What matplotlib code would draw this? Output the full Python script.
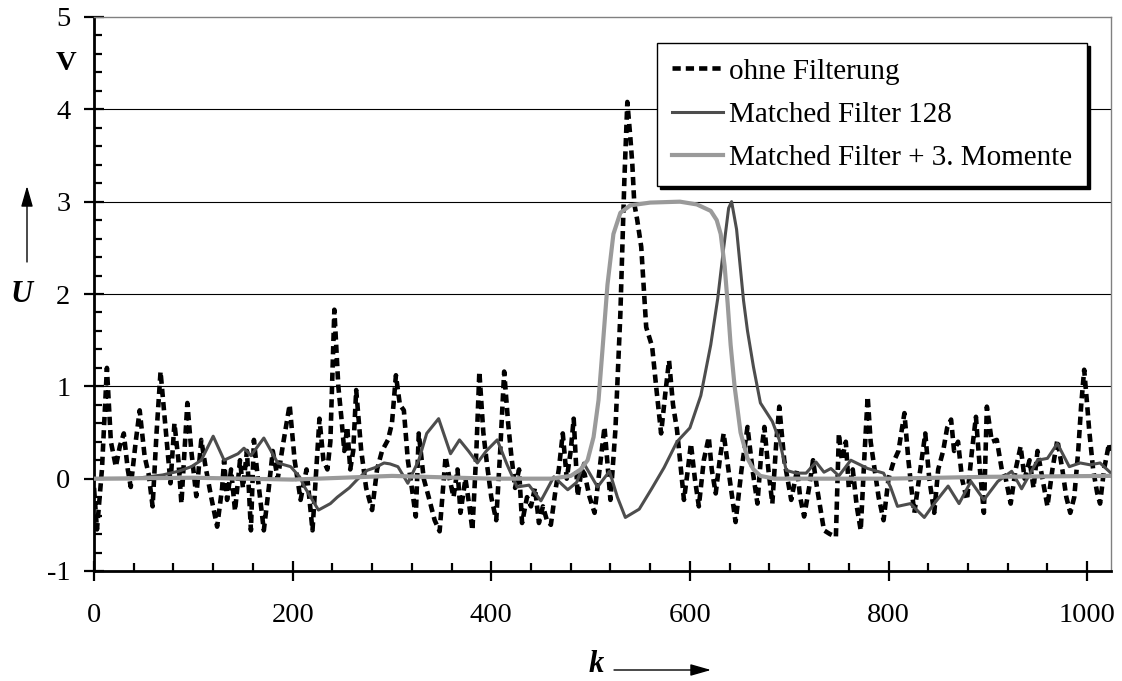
import matplotlib.pyplot as plt
from matplotlib.ticker import MultipleLocator

# Data (sample index k, voltage U)
raw_k = [0, 3, 8, 13, 17, 22, 26, 30, 34, 37, 42, 46, 51, 55, 59, 63, 67, 72, 77, 81,
         85, 88, 94, 98, 103, 108, 112, 118, 124, 129, 131, 134, 138, 142, 147, 150, 154, 158, 161, 165,
         171, 176, 180, 185, 190, 197, 202, 208, 214, 220, 227, 231, 235, 238, 242, 246, 249, 252, 255, 258,
         261, 264, 269, 274, 280, 285, 290, 296, 300, 304, 308, 312, 316, 320, 324, 327, 332, 337, 343, 348,
         354, 358, 362, 366, 369, 374, 378, 381, 385, 388, 392, 396, 400, 405, 409, 413, 417, 420, 424, 428,
         431, 436, 440, 444, 448, 452, 456, 460, 465, 468, 472, 476, 480, 483, 487, 491, 494, 499, 504, 509,
         514, 520, 525, 530, 534, 537, 540, 542, 544, 547, 551, 556, 562, 566, 571, 575, 579, 583, 587, 590,
         594, 598, 601, 605, 609, 614, 619, 622, 626, 630, 634, 640, 646, 652, 658, 663, 668, 672, 675, 679,
         683, 687, 690, 695, 702, 708, 711, 715, 720, 724, 728, 735, 741, 747, 750, 753, 757, 760, 764, 768,
         772, 776, 779, 782, 786, 790, 795, 800, 805, 810, 816, 820, 823, 826, 832, 837, 841, 846, 850, 855,
         859, 863, 866, 870, 874, 879, 884, 888, 892, 896, 899, 904, 909, 914, 918, 923, 928, 933, 937, 942,
         946, 950, 955, 960, 965, 970, 975, 979, 983, 987, 991, 994, 997, 1000, 1002, 1006, 1010, 1013, 1017, 1022,
         1023]
raw_u = [-0.1, -0.55, 0.1, 1.2, 0.4, 0.13, 0.35, 0.49, 0.1, -0.09, 0.4, 0.74, 0.24, 0.05, -0.3, 0.5, 1.16, 0.55, -0.05, 0.6,
         0.2, -0.27, 0.82, 0.3, -0.19, 0.42, 0.15, -0.2, -0.52, -0.1, 0.2, -0.23, 0.1, -0.35, 0.2, -0.1, 0.3, -0.56, 0.42, 0.0,
         -0.56, -0.1, 0.3, 0.0, 0.35, 0.8, 0.2, -0.23, 0.1, -0.56, 0.65, 0.2, 0.1, 0.4, 1.83, 1.0, 0.67, 0.3, 0.56, 0.1,
         0.3, 0.96, 0.31, -0.1, -0.34, 0.1, 0.3, 0.42, 0.6, 1.12, 0.8, 0.74, 0.2, -0.1, -0.41, 0.49, 0.0, -0.2, -0.45, -0.57,
         0.24, 0.0, -0.2, 0.1, -0.37, 0.0, -0.3, -0.56, 0.3, 1.16, 0.5, 0.13, -0.2, -0.45, 0.3, 1.16, 0.6, 0.27, -0.1, 0.1,
         -0.48, -0.2, -0.3, -0.1, -0.48, -0.3, -0.45, -0.5, -0.1, 0.1, 0.49, 0.0, 0.3, 0.65, -0.19, 0.1, 0.05, -0.2, -0.37, 0.1,
         0.56, -0.23, 0.53, 1.79, 3.23, 4.08, 3.7, 3.41, 2.98, 2.8, 2.51, 1.64, 1.43, 1.0, 0.49, 0.9, 1.28, 0.8, 0.53, 0.2,
         -0.23, 0.1, 0.38, 0.0, -0.3, 0.2, 0.45, 0.1, -0.16, 0.2, 0.49, 0.0, -0.47, 0.1, 0.56, 0.1, -0.27, 0.3, 0.56, 0.1,
         -0.27, 0.4, 0.78, 0.2, -0.23, 0.1, -0.2, -0.41, -0.1, 0.2, -0.1, -0.56, -0.6, -0.63, 0.49, 0.2, 0.4, -0.1, 0.1, -0.3,
         -0.56, 0.3, 0.89, 0.4, 0.1, -0.2, -0.45, 0.0, 0.18, 0.3, 0.71, 0.2, -0.1, -0.37, 0.1, 0.49, 0.0, -0.37, 0.1, 0.3,
         0.55, 0.64, 0.3, 0.4, 0.0, -0.23, 0.3, 0.67, 0.1, -0.37, 0.78, 0.4, 0.42, 0.1, 0.0, -0.27, 0.1, 0.35, 0.0, 0.2,
         -0.1, 0.3, 0.0, -0.3, 0.1, 0.42, 0.1, -0.2, -0.37, -0.2, 0.3, 0.8, 1.18, 0.8, 0.53, 0.1, -0.15, -0.27, 0.1, 0.38,
         0.3]

mf_k = [0, 40, 69, 85, 98, 108, 120, 131, 145, 151, 158, 171, 185, 198, 207, 212, 226, 238, 245, 257,
        265, 275, 283, 292, 298, 306, 316, 327, 335, 347, 359, 368, 377, 386, 395, 406, 416, 426, 438, 450,
        463, 477, 486, 493, 507, 519, 527, 535, 549, 562, 574, 587, 600, 611, 621, 628, 634, 639, 642, 647,
        654, 658, 664, 671, 683, 690, 697, 707, 717, 727, 735, 742, 750, 762, 779, 795, 802, 809, 822, 836,
        846, 860, 871, 883, 896, 910, 924, 934, 950, 960, 970, 982, 993, 1003, 1013, 1024]
mf_u = [0.0, 0.0, 0.04, 0.08, 0.13, 0.2, 0.46, 0.2, 0.27, 0.33, 0.25, 0.44, 0.17, 0.13, 0.02, -0.09, -0.34, -0.27, -0.2, -0.1,
        -0.01, 0.09, 0.12, 0.17, 0.16, 0.13, -0.05, 0.2, 0.49, 0.65, 0.27, 0.42, 0.3, 0.17, 0.3, 0.42, 0.15, -0.09, -0.07, -0.24,
        0.02, -0.12, -0.04, 0.17, -0.09, 0.08, -0.2, -0.42, -0.33, -0.1, 0.12, 0.4, 0.55, 0.9, 1.45, 1.95, 2.5, 2.93, 3.0, 2.7,
        1.93, 1.6, 1.21, 0.82, 0.62, 0.42, 0.09, 0.06, 0.06, 0.18, 0.07, 0.11, 0.03, 0.2, 0.11, 0.06, -0.09, -0.3, -0.27, -0.42,
        -0.27, -0.08, -0.27, -0.03, -0.23, -0.03, 0.08, -0.11, 0.2, 0.22, 0.38, 0.13, 0.17, 0.15, 0.17, 0.06]

mfm_k = [0, 100, 200, 300, 400, 460, 480, 490, 497, 503, 508, 512, 517, 523, 530, 540, 560, 590, 607, 621,
         627, 631, 635, 638, 641, 645, 651, 658, 664, 671, 685, 800, 900, 1024]
mfm_u = [0.0, 0.01, -0.01, 0.03, 0.0, 0.0, 0.03, 0.1, 0.2, 0.45, 0.85, 1.4, 2.1, 2.65, 2.88, 2.96, 2.99, 3.0, 2.97, 2.9,
         2.8, 2.65, 2.3, 1.9, 1.45, 1.0, 0.5, 0.22, 0.1, 0.03, 0.0, 0.0, 0.02, 0.03]

labels = ['ohne Filterung', 'Matched Filter 128', 'Matched Filter + 3. Momente']

plt.rcParams['font.family'] = ['Liberation Serif', 'DejaVu Serif']
plt.rcParams['axes.unicode_minus'] = False

W, H = 1122, 681
fig = plt.figure(figsize=(W / 100, H / 100), dpi=100)
ax = fig.add_axes([94 / W, 1 - 571 / H, (1111 - 94) / W, (571 - 17) / H])

# Grid lines (horizontal only)
for yv in [1, 2, 3, 4]:
    ax.axhline(yv, color='black', lw=0.8, zorder=1)

# Series
ax.plot(raw_k, raw_u, color='black', lw=3.3, dashes=(1.8, 1.1), label=labels[0], zorder=3)
ax.plot(mf_k, mf_u, color='#4d4d4d', lw=2.2, label=labels[1], zorder=4)
ax.plot(mfm_k, mfm_u, color='#9a9a9a', lw=3, label=labels[2], zorder=5)

ax.set_xlim(0, 1024)
ax.set_ylim(-1, 5)

# Ticks
ax.xaxis.set_major_locator(MultipleLocator(200))
ax.xaxis.set_minor_locator(MultipleLocator(40))
ax.yaxis.set_major_locator(MultipleLocator(1))
ax.yaxis.set_minor_locator(MultipleLocator(0.2))
ax.tick_params(axis='both', which='major', direction='inout', length=14, width=1.6, labelsize=20.5)
ax.tick_params(axis='both', which='minor', direction='in', length=6, width=1.6)
ax.tick_params(axis='x', which='major', pad=16)
ax.tick_params(axis='y', which='major', pad=10)

# Spines
ax.spines['left'].set_linewidth(2)
ax.spines['bottom'].set_linewidth(2)
ax.spines['top'].set_color('#808080')
ax.spines['right'].set_color('#808080')
ax.spines['top'].set_linewidth(1)
ax.spines['right'].set_linewidth(1)

# Axis labels with arrows
fig.text(66 / W, 1 - 63 / H, 'V', fontsize=20.5, fontweight='bold', ha='center', va='center')
fig.text(22 / W, 1 - 295 / H, 'U', fontsize=22, fontweight='bold', fontstyle='italic', ha='center', va='center')
fig.text(596 / W, 1 - 665 / H, 'k', fontsize=22, fontweight='bold', fontstyle='italic', ha='center', va='center')
ax.annotate('', xy=(27 / W, 1 - 186 / H), xytext=(27 / W, 1 - 262 / H), xycoords='figure fraction',
            arrowprops=dict(arrowstyle='-|>,head_length=0.7,head_width=0.2', color='black', lw=1,
                            mutation_scale=18, shrinkA=0, shrinkB=0))
ax.annotate('', xy=(711 / W, 1 - 670 / H), xytext=(614 / W, 1 - 670 / H), xycoords='figure fraction',
            arrowprops=dict(arrowstyle='-|>,head_length=0.7,head_width=0.2', color='black', lw=1,
                            mutation_scale=18, shrinkA=0, shrinkB=0))

# Legend
leg = ax.legend(loc='upper left', bbox_to_anchor=(657 / W, 1 - 43 / H), bbox_transform=fig.transFigure,
                fontsize=21, frameon=True, fancybox=False, edgecolor='black', framealpha=1,
                shadow={'color': 'black', 'alpha': 1}, borderpad=0.52, labelspacing=0.58,
                handlelength=1.75, handletextpad=0.2, borderaxespad=0)
leg.get_frame().set_linewidth(1)

fig.savefig('out.png', dpi=100)
